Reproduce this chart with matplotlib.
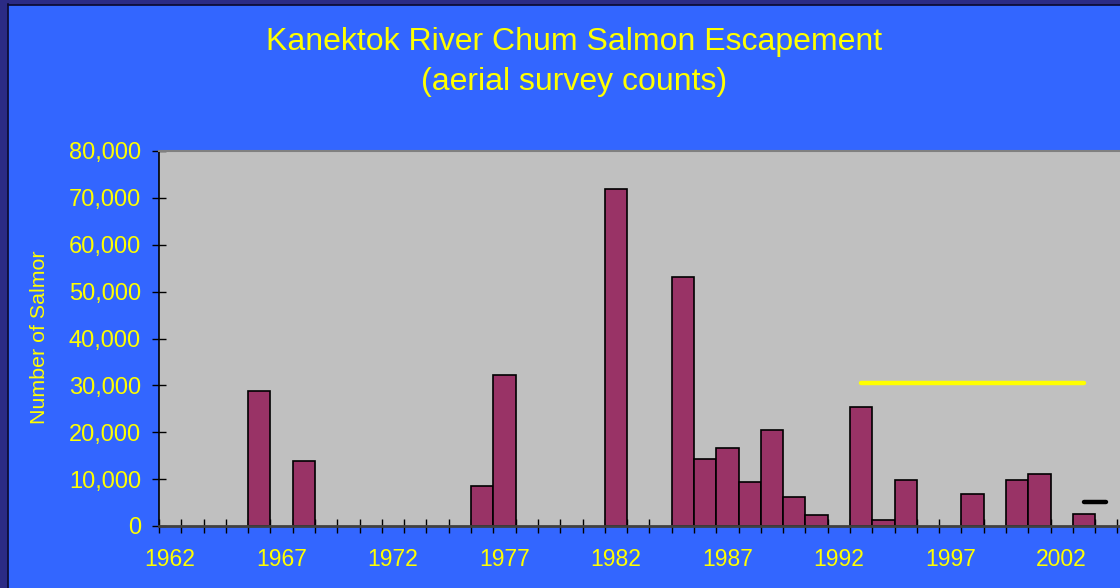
import matplotlib
matplotlib.use("Agg")
import matplotlib.pyplot as plt
from matplotlib.patches import Rectangle
from matplotlib.lines import Line2D
from matplotlib.ticker import FuncFormatter, FixedLocator

plt.rcParams['font.family'] = ['Liberation Sans', 'DejaVu Sans']

# ---- data ----
bar_years = [1966, 1968, 1976, 1977, 1982, 1985, 1986, 1987, 1988, 1989,
             1990, 1991, 1993, 1994, 1995, 1998, 2000, 2001, 2003]
bar_counts = [28800, 13800, 8500, 32200, 72000, 53100, 14350, 16550, 9300, 20450,
              6200, 2350, 25400, 1200, 9800, 6800, 9800, 11200, 2600]
goal_years = [1993, 1995, 1997, 1999, 2001, 2003]
goal_values = [30500, 30500, 30500, 30500, 30500, 30500]
recent_years = [2003, 2004]
recent_values = [5100, 5100]
tick_label_years = [1962, 1967, 1972, 1977, 1982, 1987, 1992, 1997, 2002]
first_year, last_year = 1962, 2005

title = "Kanektok River Chum Salmon Escapement\n(aerial survey counts)"
ylabel = "Number of Salmor"

BG = "#3366FF"
DARK = "#2B2B85"
PLOT = "#C0C0C0"
BAR = "#993366"
YEL = "#FFFF00"

W, H = 1120, 588
fig = plt.figure(figsize=(W / 100, H / 100), dpi=100)
fig.patch.set_facecolor(BG)

# frame strips
fig.add_artist(Rectangle((0, 0), 7 / W, 1, transform=fig.transFigure, color=DARK, zorder=0))
fig.add_artist(Rectangle((0, 1 - 4 / H), 1, 4 / H, transform=fig.transFigure, color=DARK, zorder=0))
fig.add_artist(Line2D([7.5 / W, 7.5 / W], [0, 1 - 4 / H], transform=fig.transFigure, color="#0a0a30", lw=1.2))
fig.add_artist(Line2D([7.5 / W, 1], [1 - 4.5 / H, 1 - 4.5 / H], transform=fig.transFigure, color="#0a0a30", lw=1.2))

px_per_year = 22.29
left_px, top_px, bottom_px = 159, 151, 526
ncat = last_year - first_year + 1
ax = fig.add_axes([left_px / W, (H - bottom_px) / H, ncat * px_per_year / W, (bottom_px - top_px) / H])
ax.set_facecolor(PLOT)

ax.bar(bar_years, bar_counts, width=1.0, color=BAR, edgecolor="black", linewidth=1.2, zorder=2)
ax.plot(goal_years, goal_values, color=YEL, lw=3.2, solid_capstyle="round", zorder=3)
ax.plot(recent_years, recent_values, color="black", lw=3.2, solid_capstyle="round", zorder=3)

ax.set_xlim(first_year - 0.5, last_year + 0.5)
ax.set_ylim(0, 80000)

# x ticks: boundaries (major, no labels), labels via minor ticks
ax.xaxis.set_major_locator(FixedLocator([y - 0.5 for y in range(first_year, last_year + 2)]))
ax.xaxis.set_major_formatter(FuncFormatter(lambda v, p: ""))
ax.xaxis.set_minor_locator(FixedLocator(tick_label_years))
ax.xaxis.set_minor_formatter(FuncFormatter(lambda v, p: f"{int(round(v))}"))
ax.tick_params(axis="x", which="major", direction="inout", length=9.5, width=1.0, color="black")
ax.tick_params(axis="x", which="minor", length=0, pad=16, labelsize=16.5, labelcolor=YEL)

ax.set_yticks(range(0, 80001, 10000))
ax.yaxis.set_major_formatter(FuncFormatter(lambda v, p: f"{int(v):,}"))
ax.tick_params(axis="y", direction="inout", length=10, width=1.0, color="black",
               labelsize=17, labelcolor=YEL, pad=8)

for s in ["right"]:
    ax.spines[s].set_visible(False)
ax.spines["top"].set_color("#808080")
ax.spines["top"].set_linewidth(1.5)
ax.spines["left"].set_color("black")
ax.spines["left"].set_linewidth(1.2)
ax.spines["bottom"].set_color("#404040")
ax.spines["bottom"].set_linewidth(2.0)
ax.spines["bottom"].set_zorder(4)

fig.text(40 / W, 1 - 337 / H, ylabel, rotation=90, color=YEL, fontsize=15.4,
         ha="center", va="center")
fig.text(574 / W, 1 - 62 / H, title, color=YEL, fontsize=23, ha="center", va="center",
         linespacing=1.42)

fig.savefig("out.png", dpi=100, facecolor=BG)
